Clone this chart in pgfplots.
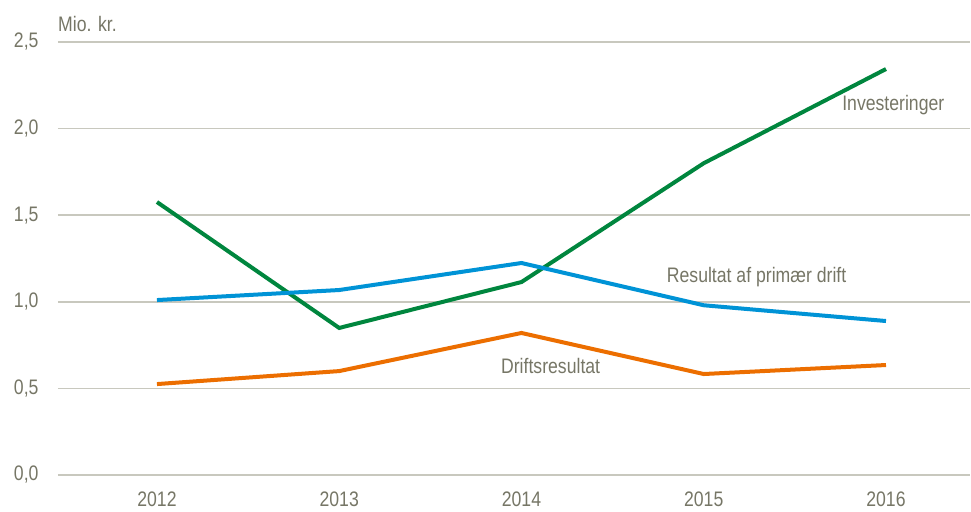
\documentclass[border=0pt]{standalone}
\usepackage{pgfplots}
\pgfplotsset{compat=1.18}
\usepackage{fontspec}
\setmainfont{Liberation Sans}[FakeStretch=0.84]
\definecolor{txt}{RGB}{118,118,102}
\definecolor{gridc}{RGB}{200,200,190}
\definecolor{cgreen}{RGB}{0,134,62}
\definecolor{cblue}{RGB}{0,147,214}
\definecolor{corange}{RGB}{236,110,0}
\begin{document}
\begin{tikzpicture}[x=1pt,y=1pt]
\path[use as bounding box] (-58,-36) rectangle (913,475);
\begin{axis}[
  at={(0,0)}, anchor=south west,
  scale only axis, width=912pt, height=433pt,
  xmin=2011.457, xmax=2016.461, ymin=0, ymax=2.5,
  axis line style={draw=none},
  xtick={2012,2013,2014,2015,2016},
  xticklabels={2012,2013,2014,2015,2016},
  ytick={0,0.5,1,1.5,2,2.5},
  xmajorgrids=false, ymajorgrids=true,
  grid style={draw=gridc, line width=1.5pt},
  major tick length=0pt,
  tick label style={font=\fontsize{21}{24}\selectfont, text=txt},
  xticklabel style={yshift=-13pt},
  yticklabel style={xshift=-16pt},
  /pgf/number format/assume math mode=true,
  yticklabel={\pgfmathprintnumber[fixed,fixed zerofill,precision=1,use comma]{\tick}},
  clip=false,
]
\addplot[cgreen, line width=4pt] coordinates {(2012,1.576) (2013,0.849) (2014,1.114) (2015,1.80) (2016,2.344)};
\addplot[cblue, line width=4pt] coordinates {(2012,1.01) (2013,1.068) (2014,1.224) (2015,0.98) (2016,0.889)};
\addplot[corange, line width=4pt] coordinates {(2012,0.525) (2013,0.60) (2014,0.82) (2015,0.583) (2016,0.635)};
\node[font=\fontsize{21}{24}\selectfont, text=txt] at (axis cs:2016.04,2.133) {Investeringer};
\node[font=\fontsize{21}{24}\selectfont, text=txt] at (axis cs:2015.29,1.143) {Resultat af primær drift};
\node[font=\fontsize{21}{24}\selectfont, text=txt] at (axis cs:2014.16,0.629) {Driftsresultat};
\node[font=\fontsize{21}{24}\selectfont, text=txt, anchor=west, inner sep=0pt] at ([yshift=18pt]rel axis cs:0,1) {Mio. kr.};
\end{axis}
\end{tikzpicture}
\end{document}
